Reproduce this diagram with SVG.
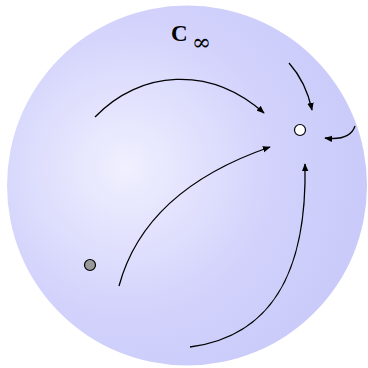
<svg xmlns="http://www.w3.org/2000/svg" width="368" height="368" viewBox="0 0 368 368">
<defs>
<radialGradient id="ball" cx="0.33" cy="0.45" r="0.75" fx="0.33" fy="0.45">
<stop offset="0" stop-color="#f0f0ff"/>
<stop offset="0.55" stop-color="#d2d2fc"/>
<stop offset="1" stop-color="#c8c8fa"/>
</radialGradient>
<marker id="ah" viewBox="0 0 10 8" refX="9" refY="4" markerWidth="8" markerHeight="7" markerUnits="userSpaceOnUse" orient="auto">
<path d="M0,0 L10,4 L0,8 Z" fill="#000"/>
</marker>
<style>
.conn{fill:none;stroke:#000;stroke-width:1.3;marker-end:url(#ah)}
.pt{stroke:#000;stroke-width:1.2}
.lbl{fill:#000}
</style>
</defs>
<rect width="368" height="368" fill="#fff"/>
<g id="sphere">
<circle cx="187" cy="185.5" r="180" fill="url(#ball)"/>
<text class="lbl" x="171" y="41" font-family="Liberation Serif, serif" font-weight="bold" font-size="23">C</text>
<text class="lbl" x="192" y="50" font-family="DejaVu Serif, serif" font-size="23">∞</text>
</g>
<g id="connectors">
<path class="conn" d="M95,117 C140,70 210,65 264,113"/>
<path class="conn" d="M289,63 Q306,82 312,110"/>
<path class="conn" d="M355,126 Q350,141 325,138"/>
<path class="conn" d="M119,286 Q145,190 270,147"/>
<path class="conn" d="M190,347 C280,335 307,260 305,164"/>
</g>
<g id="infinity">
<circle class="pt" cx="300" cy="130" r="5.5" fill="#fff"/>
</g>
<g id="point">
<circle class="pt" cx="90" cy="265" r="5.5" fill="#999"/>
</g>
</svg>
